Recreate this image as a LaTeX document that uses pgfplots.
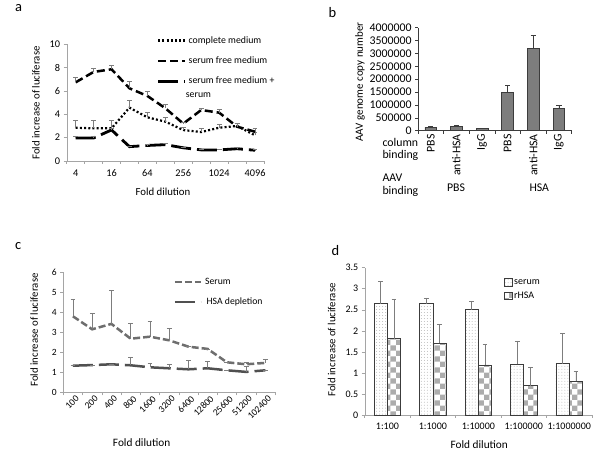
\documentclass[border=0pt]{standalone}
\usepackage{fontspec}
\setmainfont{Carlito}
\usepackage{pgfplots}
\pgfplotsset{compat=1.18}
\usetikzlibrary{patterns}

\definecolor{axgray}{RGB}{165,165,165}
\definecolor{errgray}{RGB}{125,125,125}
\definecolor{bargray}{RGB}{125,125,125}
\definecolor{bardark}{RGB}{60,60,60}
\definecolor{lserum}{RGB}{110,110,110}
\definecolor{lhsa}{RGB}{80,80,80}

\newcommand{\fs}[1]{\fontsize{#1bp}{1.2\dimexpr#1bp\relax}\selectfont}

\pgfplotsset{
  common/.style={
    scale only axis, anchor=south west, clip=false,
    axis x line*=bottom, axis y line*=left,
    axis line style={axgray,-},
    tick align=outside, tick style={axgray, line width=0.5bp},
    major tick length=3bp,
    /pgf/number format/fixed,
    /pgf/number format/1000 sep={},
    /pgf/number format/assume math mode=true,
    scaled y ticks=false,
    tick label style={text=black},
  },
  errs/.style={
    error bars/.cd, y dir=plus, y explicit,
    error bar style={errgray, line width=0.6bp, solid},
    error mark options={errgray, mark size=2.4bp, line width=0.6bp, solid, rotate=90},
  },
}

\begin{document}
\begin{tikzpicture}[x=1bp,y=1bp]
\path[use as bounding box] (0,0) rectangle (601,456);

% ---------------- panel a ----------------
\node[anchor=base west, font=\fs{14.5}] at (11.5,444.3) {a};
\begin{axis}[common,
  at={(66.7bp,295bp)}, width=197.3bp, height=116.7bp,
  xmin=-0.5, xmax=10.5, ymin=0, ymax=10, ytick={0,2,4,6,8,10},
  xtick={-0.5,0.5,...,10.5}, xticklabels={},
  extra x ticks={0,2,4,6,8,10},
  extra x tick labels={4,16,64,256,1024,4096},
  extra x tick style={major tick length=0bp, xticklabel style={yshift=-5bp}},
  tick label style={font=\fs{10.3}},
  xlabel={Fold dilution}, ylabel={Fold increase of luciferase},
  every axis x label/.style={at={(axis description cs:0.488,-0.266)}, anchor=center, font=\fs{10.8}},
  every axis y label/.style={at={(axis description cs:-0.156,0.497)}, rotate=90, anchor=center, font=\fs{10.8}},
  legend style={at={(axis description cs:0.456,1.069)}, anchor=north west, draw=none, fill=none,
    inner sep=0bp, row sep=12bp, column sep=2bp, font=\fs{9.8},
    cells={anchor=west}, nodes={inner sep=0bp}},
  legend image code/.code={\draw[#1] (0bp,0bp) -- (27bp,0bp);},
]
\addplot[black, line width=2.2bp, dash pattern=on 2bp off 2.2bp, errs] coordinates {
 (0,2.85) +- (0,0.65) (1,2.80) +- (0,0.70) (2,2.80) +- (0,0.70) (3,4.57) +- (0,0.65)
 (4,3.74) +- (0,0.40) (5,3.37) +- (0,0.37) (6,2.65) +- (0,0.20) (7,2.48) +- (0,0.32)
 (8,2.85) +- (0,0.32) (9,3.00) +- (0,0.20) (10,2.20) +- (0,0.30)};
\addlegendentry{complete medium\vphantom{pl}}
\addplot[black, line width=2.5bp, dash pattern=on 8bp off 4bp, errs] coordinates {
 (0,6.74) +- (0,0.40) (1,7.63) +- (0,0.31) (2,7.86) +- (0,0.37) (3,6.23) +- (0,0.57)
 (4,5.57) +- (0,0.43) (5,4.52) +- (0,0.34) (6,3.20) +- (0,0.10) (7,4.37) +- (0,0.14)
 (8,4.14) +- (0,0.29) (9,2.94) +- (0,0.29) (10,2.51) +- (0,0.29)};
\addlegendentry{serum free medium\vphantom{pl}}
\addplot[black, line width=2.8bp, dash pattern=on 20bp off 6bp, errs] coordinates {
 (0,1.97) +- (0,0.12) (1,1.97) +- (0,0.12) (2,2.66) +- (0,0.10) (3,1.23) +- (0,0.05)
 (4,1.33) +- (0,0.07) (5,1.40) +- (0,0.10) (6,1.13) +- (0,0.05) (7,0.95) +- (0,0.05)
 (8,0.95) +- (0,0.05) (9,1.05) +- (0,0.10) (10,0.92) +- (0,0.05)};
\addlegendentry{serum free medium +\vphantom{pl}}
\end{axis}
\node[anchor=west, font=\fs{9.8}, inner sep=0bp] at (185.7,361) {serum};

% ---------------- panel b ----------------
\node[anchor=base west, font=\fs{14.5}] at (325,438.7) {b};
\begin{axis}[common,
  at={(418bp,325.3bp)}, width=153.7bp, height=103bp,
  axis line style={bardark,-}, tick style={bardark, line width=0.5bp},
  xmin=-0.5, xmax=5.5, ymin=0, ymax=4000000,
  ytick={0,500000,1000000,1500000,2000000,2500000,3000000,3500000,4000000},
  xtick={-0.5,0.5,...,5.5}, xticklabels={},
  extra x ticks={0,1,2,3,4,5},
  extra x tick labels={PBS,anti-HSA,IgG,PBS,anti-HSA,IgG},
  extra x tick style={major tick length=0bp, xticklabel style={rotate=90, anchor=east}},
  tick label style={font=\fs{11.8}},
  ylabel={AAV genome copy number},
  every axis y label/.style={at={(axis description cs:-0.377,0.473)}, rotate=90, anchor=center, font=\fs{11}},
]
\addplot[ybar, bar width=11.7bp, fill=bargray, draw=bardark, line width=0.8bp,
  error bars/.cd, y dir=plus, y explicit,
  error bar style={bardark, line width=0.8bp},
  error mark options={bardark, mark size=2.6bp, line width=0.8bp, rotate=90}] coordinates {
 (0,130000) +- (0,20000) (1,160000) +- (0,60000) (2,80000) +- (0,15000)
 (3,1470000) +- (0,290000) (4,3180000) +- (0,510000) (5,880000) +- (0,90000)};
\end{axis}
\node[anchor=west, align=left, font=\fontsize{11.8bp}{12bp}\selectfont] at (379,306.7) {column\\binding};
\node[anchor=west, align=left, font=\fontsize{11.8bp}{12.7bp}\selectfont] at (379,270.7) {AAV\\binding};
\node[font=\fs{11.8}] at (456,268.7) {PBS};
\node[font=\fs{11.8}] at (539.3,268.7) {HSA};

% ---------------- panel c ----------------
\node[anchor=base west, font=\fs{14.5}] at (11.5,206) {c};
\begin{axis}[common,
  at={(63.3bp,63.7bp)}, width=211.7bp, height=120bp,
  xmin=-0.5, xmax=10.5, ymin=0, ymax=6, ytick={0,1,2,3,4,5,6},
  xtick={-0.5,0.5,...,10.5}, xticklabels={},
  extra x ticks={0,1,2,3,4,5,6,7,8,9,10},
  extra x tick labels={100,200,400,800,1600,3200,6400,12800,25600,51200,102400},
  extra x tick style={major tick length=0bp, xticklabel style={rotate=45, anchor=north east, xshift=3bp}},
  tick label style={font=\fs{9.5}},
  xlabel={Fold dilution}, ylabel={Fold increase of luciferase},
  every axis x label/.style={at={(axis description cs:0.370,-0.417)}, anchor=center, font=\fs{11.3}},
  every axis y label/.style={at={(axis description cs:-0.138,0.519)}, rotate=90, anchor=center, font=\fs{10.8}},
  legend style={at={(axis description cs:0.52,0.955)}, anchor=north west, draw=none, fill=none,
    inner sep=0bp, row sep=12bp, column sep=3bp, font=\fs{9.7},
    cells={anchor=west}, nodes={inner sep=0bp}},
  legend image code/.code={\draw[#1] (0bp,0bp) -- (26bp,0bp);},
]
\addplot[lserum, line width=2.5bp, dash pattern=on 7bp off 3bp, errs] coordinates {
 (0,3.80) +- (0,0.87) (1,3.15) +- (0,0.82) (2,3.42) +- (0,1.68) (3,2.68) +- (0,0.79)
 (4,2.78) +- (0,0.75) (5,2.60) +- (0,0.60) (6,2.28) +- (0,0) (7,2.17) +- (0,0)
 (8,1.50) +- (0,0) (9,1.40) +- (0,0.12) (10,1.47) +- (0,0.18)};
\addlegendentry{Serum}
\addplot[lhsa, line width=2.5bp, dash pattern=on 20bp off 6bp, errs] coordinates {
 (0,1.33) +- (0,0) (1,1.36) +- (0,0) (2,1.40) +- (0,0) (3,1.35) +- (0,0.40)
 (4,1.25) +- (0,0.20) (5,1.20) +- (0,0.18) (6,1.15) +- (0,0.47) (7,1.20) +- (0,0.35)
 (8,1.10) +- (0,0) (9,1.02) +- (0,0.28) (10,1.10) +- (0,0)};
\addlegendentry{\,HSA depletion}
\end{axis}

% ---------------- panel d ----------------
\node[anchor=base west, font=\fs{14.5}] at (328,200.3) {d};
\begin{axis}[common, ybar=0pt, bar width=13.3bp,
  at={(364.7bp,41bp)}, width=227.3bp, height=147.3bp,
  xmin=-0.5, xmax=4.5, ymin=0, ymax=3.5, ytick={0,0.5,1,1.5,2,2.5,3,3.5},
  xtick={-0.5,0.5,...,4.5}, xticklabels={},
  extra x ticks={0,1,2,3,4},
  extra x tick labels={1:100,1:1000,1:10000,1:100000,1:1000000},
  extra x tick style={major tick length=0bp, xticklabel style={yshift=-4bp}},
  tick label style={font=\fs{10}},
  xlabel={Fold dilution}, ylabel={Fold increase of luciferase},
  every axis x label/.style={at={(axis description cs:0.504,-0.204)}, anchor=center, font=\fs{11.3}},
  every axis y label/.style={at={(axis description cs:-0.145,0.509)}, rotate=90, anchor=center, font=\fs{10.8}},
  legend style={at={(axis description cs:0.613,0.93)}, anchor=north west, draw=none, fill=none,
    inner sep=0bp, row sep=5bp, column sep=1.5bp, font=\fs{10},
    cells={anchor=west}, nodes={inner sep=0bp}},
  legend image code/.code={\draw[#1] (0bp,-3.8bp) rectangle (7.6bp,3.8bp);},
]
\addplot[draw=bardark, line width=0.8bp, pattern=dots, pattern color=gray!55, errs] coordinates {
 (0,2.64) +- (0,0.53) (1,2.64) +- (0,0.14) (2,2.50) +- (0,0.21) (3,1.20) +- (0,0.56) (4,1.22) +- (0,0.71)};
\addlegendentry{serum}
\addplot[draw=bardark, line width=0.8bp, pattern=checkerboard, pattern color=gray!65, errs] coordinates {
 (0,1.81) +- (0,0.95) (1,1.71) +- (0,0.45) (2,1.19) +- (0,0.49) (3,0.70) +- (0,0.43) (4,0.80) +- (0,0.23)};
\addlegendentry{rHSA}
\end{axis}
\end{tikzpicture}
\end{document}
